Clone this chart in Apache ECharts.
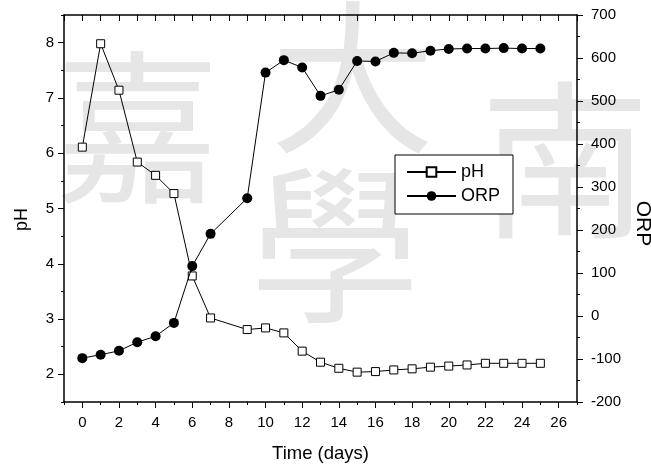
<!DOCTYPE html>
<html>
<head>
<meta charset="utf-8">
<script src="https://cdn.jsdelivr.net/npm/echarts@6/dist/echarts.min.js"></script>
<style>html,body{margin:0;padding:0;background:#fff;}#c{width:651px;height:468px;}</style>
</head>
<body>
<div id="c"></div>
<script>
const days = [0,1,2,3,4,5,6,7,9,10,11,12,13,14,15,16,17,18,19,20,21,22,23,24,25];
const phValues = [6.11,7.98,7.14,5.84,5.60,5.27,3.78,3.02,2.81,2.84,2.75,2.42,2.22,2.11,2.04,2.05,2.08,2.10,2.13,2.15,2.17,2.20,2.20,2.20,2.20];
const orpValues = [-98,-90,-81,-61,-47,-16,116,191,274,566,595,578,512,526,593,592,612,611,617,621,622,622,623,622,622];
const xMajorTicks = [0,2,4,6,8,10,12,14,16,18,20,22,24,26];
const phMajorTicks = [2,3,4,5,6,7,8];
const FONT = 'Liberation Sans, Arial, sans-serif';

const chart = echarts.init(document.getElementById('c'), null, {renderer:'canvas'});
const wm = (t, x, y, s) => ({type:'text', left:x, top:y, z:-10, silent:true,
  style:{text:t, font:'normal '+s+'px "Noto Sans CJK TC"', fill:'#e6e6e6'}});
const baseX = {type:'value', min:-1, max:27, interval:1, splitLine:{show:false}, axisLine:{onZero:false, lineStyle:{color:'#000', width:1.5}}};
const baseY = {splitLine:{show:false}};
chart.setOption({
  animation:false,
  graphic: [
    wm('嘉', 55, 45, 165),
    wm('大', 270, -5, 165),
    wm('南', 480, 75, 170),
    wm('學', 250, 160, 170)
  ],
  grid:{left:64, right:74, top:15, bottom:66, containLabel:false, outerBoundsMode:'none'},
  legend:{
    left:395, top:155, orient:'vertical',
    data:['pH','ORP'],
    itemWidth:49, itemHeight:12, itemGap:6,
    padding:[8,13,9,11],
    borderColor:'#000', borderWidth:1, backgroundColor:'#fff',
    textStyle:{fontFamily:FONT, fontSize:18, color:'#000', padding:[0,0,0,0]}
  },
  xAxis:[
    Object.assign({}, baseX, {position:'bottom',
      name:'Time (days)', nameLocation:'middle', nameGap:42,
      nameTextStyle:{fontFamily:FONT, fontSize:18.5, color:'#000'},
      axisTick:{show:true, inside:false, length:3, lineStyle:{color:'#000'}},
      axisLabel:{show:true, margin:13, fontFamily:FONT, fontSize:15, color:'#000',
        formatter: v => (Math.round(v) % 2 === 0 ? String(v) : '')}}),
    Object.assign({}, baseX, {position:'bottom',
      axisLine:{show:false, onZero:false},
      axisTick:{show:true, inside:false, length:6, lineStyle:{color:'#000'}, customValues:xMajorTicks},
      axisLabel:{show:false}}),
    Object.assign({}, baseX, {position:'top',
      axisTick:{show:true, inside:true, length:6, lineStyle:{color:'#000'}},
      axisLabel:{show:false}})
  ],
  yAxis:[
    Object.assign({}, baseY, {type:'value', position:'left', min:1.5, max:8.5, interval:0.5,
      name:'pH', nameLocation:'middle', nameGap:33,
      nameTextStyle:{fontFamily:FONT, fontSize:18, color:'#000', padding:[0,22,0,0]},
      axisLine:{show:true, onZero:false, lineStyle:{color:'#000', width:1.5}},
      axisTick:{show:true, inside:false, length:3, lineStyle:{color:'#000'}},
      axisLabel:{margin:10, fontFamily:FONT, fontSize:15, color:'#000',
        formatter: v => (Math.abs(v - Math.round(v)) < 1e-6 ? String(Math.round(v)) : '')}}),
    Object.assign({}, baseY, {type:'value', position:'right', min:-200, max:700, interval:100,
      name:'ORP', nameLocation:'middle', nameGap:52, nameRotate:-90,
      nameTextStyle:{fontFamily:FONT, fontSize:21, color:'#000', padding:[0,0,0,30]},
      axisLine:{show:true, onZero:false, lineStyle:{color:'#000', width:1.5}},
      axisTick:{show:true, inside:false, length:6, lineStyle:{color:'#000'}},
      minorTick:{show:true, splitNumber:2, length:3, lineStyle:{color:'#000'}},
      minorSplitLine:{show:false},
      axisLabel:{margin:14, fontFamily:FONT, fontSize:15, color:'#000'}}),
    Object.assign({}, baseY, {type:'value', position:'left', min:1.5, max:8.5, interval:0.5,
      axisLine:{show:false, onZero:false},
      axisTick:{show:true, inside:false, length:6, lineStyle:{color:'#000'}, customValues:phMajorTicks},
      axisLabel:{show:false}})
  ],
  series:[
    {name:'pH', type:'line', xAxisIndex:0, yAxisIndex:0,
      data: days.map((d,i)=>[d, phValues[i]]),
      symbol:'rect', symbolSize:8, showAllSymbol:true,
      lineStyle:{color:'#000', width:1},
      itemStyle:{color:'#fff', borderColor:'#000', borderWidth:1}, z:3},
    {name:'ORP', type:'line', xAxisIndex:0, yAxisIndex:1,
      data: days.map((d,i)=>[d, orpValues[i]]),
      symbol:'circle', symbolSize:10, showAllSymbol:true,
      lineStyle:{color:'#000', width:1},
      itemStyle:{color:'#000', borderColor:'#000', borderWidth:0}, z:4}
  ]
});
</script>
</body>
</html>
